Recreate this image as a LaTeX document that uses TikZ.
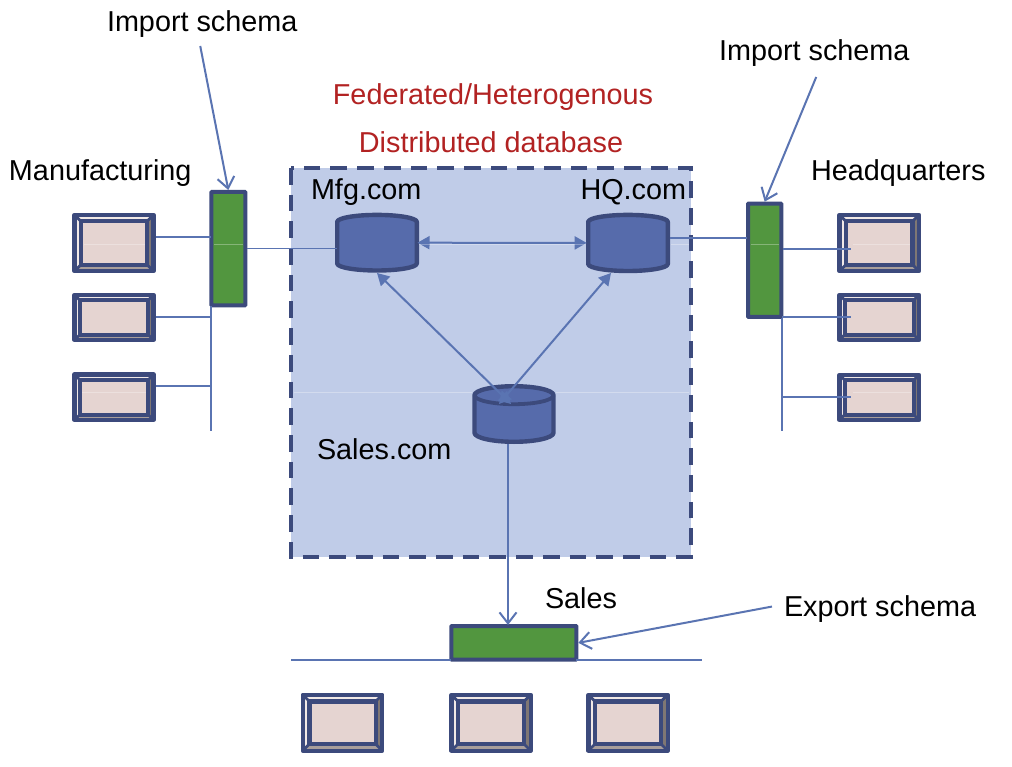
\documentclass[tikz,border=0pt]{standalone}
\usepackage{fontspec}
\setmainfont{Liberation Sans}
\usetikzlibrary{arrows.meta,calc,fit}
\definecolor{dk}{HTML}{3C4A7C}
\definecolor{conn}{HTML}{5A74B2}
\definecolor{grn}{HTML}{52963F}
\definecolor{cylf}{HTML}{566BAB}
\definecolor{pane}{HTML}{C0CCE8}
\definecolor{rd}{HTML}{B22222}
\definecolor{scr}{HTML}{E5D4D1}
\definecolor{lt}{HTML}{F1E9E7}
\definecolor{gr}{HTML}{7F7774}
\definecolor{mg}{HTML}{A89E9B}
\tikzset{
  lab/.style={font=\fontsize{28.8}{30}\selectfont,inner sep=0pt,outer sep=0pt,anchor=base west,text=black},
  redlab/.style={lab,anchor=base,text=rd},
  link/.style={draw=conn,line width=1.7pt},
  open/.style={link,line width=2pt,-{Straight Barb[length=11pt,width=17pt,line width=2pt]}},
  solid2/.style={link,line width=2pt,{Triangle[length=12pt,width=13pt]}-{Triangle[length=12pt,width=13pt]}},
  greenbox/.style={draw=dk,line width=4pt,fill=grn,inner sep=0pt,outer sep=0pt,rounded corners=0.6pt},
  box/.style={inner sep=0pt,outer sep=0pt},
  seam/.style={draw=white,opacity=.3,line width=1pt},
  bev/.style={draw=dk,line width=4.2pt,line join=round},
  bevd/.style={draw=dk,line width=2.8pt}
}
% name, x1,y1,x2,y2 (stroke centres), bevel
\newcommand\screenbox[6]{%
  \node[box,fit={(#2,#3)(#4,#5)}] (#1) {};
  \fill[lt] (#1.north west) -- (#1.north east) -- ++(-#6,#6) -- ($(#1.north west)+(#6,#6)$) -- cycle;
  \fill[lt] (#1.north west) -- (#1.south west) -- ++(#6,-#6) -- ($(#1.north west)+(#6,#6)$) -- cycle;
  \fill[gr] (#1.north east) -- (#1.south east) -- ++(-#6,-#6) -- ($(#1.north east)+(-#6,#6)$) -- cycle;
  \fill[mg] (#1.south west) -- (#1.south east) -- ++(-#6,-#6) -- ($(#1.south west)+(#6,-#6)$) -- cycle;
  \draw[bevd] (#1.north west) -- ++(#6,#6) (#1.north east) -- ++(-#6,#6)
              (#1.south west) -- ++(#6,-#6) (#1.south east) -- ++(-#6,-#6);
  \draw[bev,fill=scr] ($(#1.north west)+(#6,#6)$) rectangle ($(#1.south east)+(-#6,-#6)$);
  \draw[bev] (#1.north west) rectangle (#1.south east);
}
% name, x1,y1,x2,y2 (stroke centres), radius
\newcommand\cylinder[6]{%
  \node[box,fit={(#2,#3)(#4,#5)}] (#1) {};
  \pgfmathsetmacro\rx{(#4-#2)/2}
  \draw[draw=dk,line width=4.4pt,fill=cylf,line join=round]
    ($(#1.north west)+(0,#6)$) arc[start angle=180,end angle=0,x radius=\rx pt,y radius=#6pt]
    -- ($(#1.south east)+(0,-#6)$) arc[start angle=0,end angle=-180,x radius=\rx pt,y radius=#6pt] -- cycle;
}
\begin{document}
\begin{tikzpicture}[x=1pt,y=-1pt]
\useasboundingbox (0,0) rectangle (1012,767);
\fill[white] (0,0) rectangle (1012,767);

% distributed database pane
\node[box,fit={(291,168)(691,557)}] (pane) {};
\fill[pane] (pane.north west) rectangle (pane.south east);
\draw[draw=dk,line width=4pt,dash pattern=on 16.7pt off 10pt] (pane.north west) rectangle (pane.south east);

% labels
\node[lab] (imp1) at (107,32) {Import schema};
\node[lab] (imp2) at (719,61) {Import schema};
\node[redlab] (fed) at (493,105) {Federated/Heterogenous};
\node[redlab] (dist) at (491,153) {Distributed database};
\node[lab] (manu) at (9,181) {Manufacturing};
\node[lab] (head) at (811,181) {Headquarters};
\node[lab] (mfgt) at (311,200) {Mfg.com};
\node[lab] (hqt) at (580.5,200) {HQ.com};
\node[lab] (salest) at (317,459) {Sales.com};
\node[lab] (salesl) at (545,608) {Sales};
\node[lab] (expl) at (784,616) {Export schema};

% schema boxes
\node[greenbox,fit={(211.3,192)(245.3,305.3)}] (box1) {};
\node[greenbox,fit={(748,203.7)(781.3,317)}] (box2) {};
\node[greenbox,fit={(451.3,626)(576.3,659.7)}] (box3) {};

% screens
\screenbox{l1}{74.5}{214.8}{153.5}{271.2}{6.5}
\screenbox{l2}{74.5}{294.8}{153.5}{340}{5.2}
\screenbox{l3}{74.5}{374.5}{153.5}{420}{5.2}
\screenbox{r1}{839.4}{214.8}{919}{271.2}{6.5}
\screenbox{r2}{839.4}{294.8}{919}{340}{5.2}
\screenbox{r3}{839.4}{374.8}{919}{420}{5.2}
\screenbox{b1}{302.8}{694.8}{382.2}{750.6}{6.6}
\screenbox{b2}{451.4}{694.8}{530.6}{750.6}{6.6}
\screenbox{b3}{588.4}{694.8}{667.6}{750.6}{6.6}

% databases
\cylinder{mfg}{337.2}{214.9}{416.8}{270.5}{7}
\cylinder{hq}{588.2}{214.9}{667.8}{271}{7}
\cylinder{sales}{474.5}{386.2}{553.5}{441.8}{9}
\draw[draw=dk,line width=3.8pt] (sales.west |- 0,395.2) arc[start angle=180,end angle=360,x radius=39.5pt,y radius=9pt];

% tap points
\coordinate (t1) at (211,237);
\coordinate (t2) at (211,317);
\coordinate (t3) at (211,386);
\coordinate (lb) at (211,431);
\coordinate (lt0) at (211,306);
\coordinate (u1) at (851,249);
\coordinate (u2) at (851,317);
\coordinate (u3) at (851,397);
\coordinate (rt) at (782,318);
\coordinate (rb) at (782,431);
\coordinate (hqo) at (670,238);
\coordinate (hqb) at (747,238);
\coordinate (sd) at (508,444);
\coordinate (busl) at (291,660);
\coordinate (busr) at (702,660);
\coordinate (sm) at (511,404);
\coordinate (sh) at (499,404);
\coordinate (mt) at (377,273);
\coordinate (ht) at (611,273);

% connectors
\draw[link] (lt0) -- (lb);
\draw[link] (l1.east) ++(2,-6) -- (t1);
\draw[link] (l2.east |- t2) ++(2,0) -- (t2);
\draw[link] (l3.east |- t3) ++(2,0) -- (t3);
\draw[link] (box1.east) ++(2,0) -- (box1.east -| mfg.west);
\draw[link] (hqo) -- (hqb);
\draw[link] (rt) -- (rb);
\draw[link] (box2.east |- u1) ++(2,0) -- (u1);
\draw[link] (rt |- u2) -- (u2);
\draw[link] (rb |- u3) -- (u3);
\draw[link] (busl) -- (box3.west |- busl);
\draw[link] (box3.east |- busr) -- (busr);
\draw[solid2] (mfg.east) ++(0.7,0) -- ($(hq.west)+(-1.5,0)$);
\draw[solid2] (mt) -- (sm);
\draw[solid2] (ht) -- (sh);
\draw[open] (sd) -- ($(sd |- box3.north)+(0,-1)$);
\draw[open] ($(imp1.south)+(-2,8)$) -- ($(box1.north)+(0,-2)$);
\draw[open] ($(imp2.south)+(2,10)$) -- ($(box2.north)+(0,-2)$);
\draw[open] ($(expl.west)+(-12,-2)$) -- ($(box3.east)+(2,0)$);

% faint seams
\draw[seam] (84,245) -- (145,245) (214,245) -- (243,245) (419,245) -- (585,245)
  (671,245) -- (689,245) (751,245) -- (779,245) (853,245) -- (910,245)
  (294,392) -- (472,392) (556,392) -- (689,392) (82,392) -- (146,392) (853,392) -- (911,392);
\end{tikzpicture}
\end{document}
